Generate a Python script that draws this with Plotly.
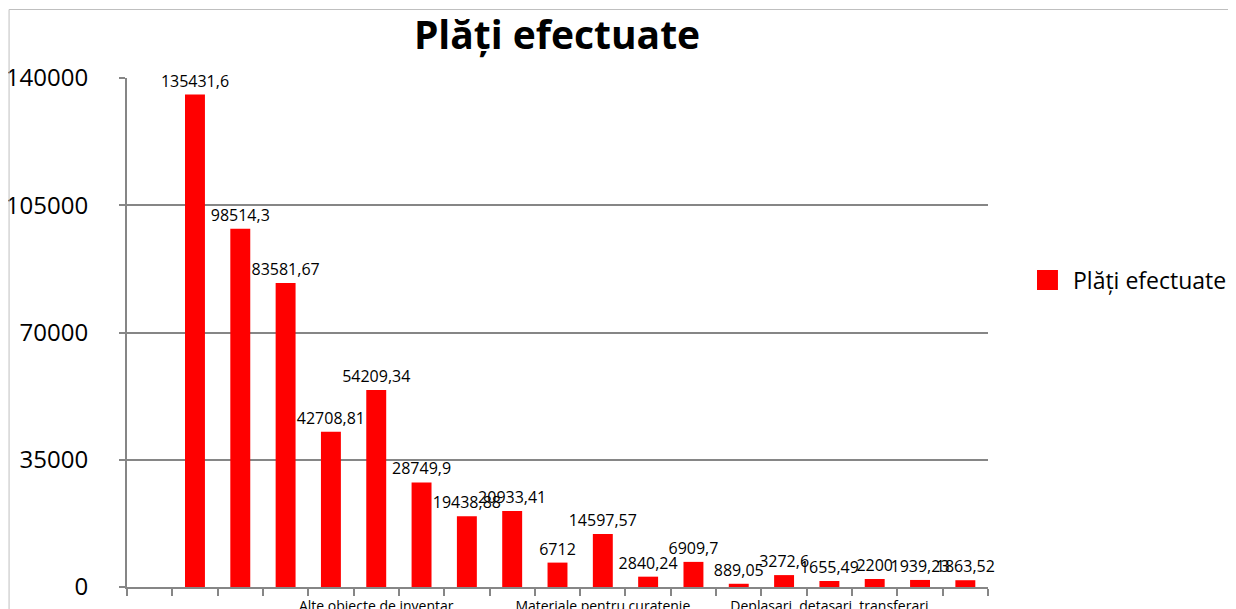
import plotly.graph_objects as go

# ---- data ----
chart_title = "Plăți efectuate"
series_name = "Plăți efectuate"
slots = list(range(19))
values = [None, 135431.6, 98514.3, 83581.67, 42708.81, 54209.34, 28749.9,
          19438.88, 20933.41, 6712, 14597.57, 2840.24, 6909.7, 889.05,
          3272.6, 1655.49, 2200, 1939.23, 1863.52]
label_slots = [5, 10, 15]
label_texts = ["Alte obiecte de inventar", "Materiale pentru curatenie",
               "Deplasari, detasari, transferari"]
y_ticks = [0, 35000, 70000, 105000, 140000]


def fmt(v):
    if v is None:
        return ""
    s = ("%.2f" % v).rstrip("0").rstrip(".")
    return s.replace(".", ",")


# page is offset by the default 8px body margin
OFF = 8
W, H = 1236 - OFF, 609 - OFF
L, R, T, B = 126.5, 988, 78, 587  # plot area in page pixels


def px(X):
    return (X - L) / (R - L)


def py(Y):
    return (B - Y) / (B - T)


FONT = "Open Sans"
GRID = "#868686"

fig = go.Figure()
fig.add_trace(go.Bar(
    x=slots, y=values, name=series_name, width=0.44,
    marker=dict(color="#FF0000", line=dict(width=0)),
    text=[fmt(v) for v in values], textposition="outside",
    textfont=dict(family=FONT, size=16, color="#000000"),
    constraintext="none", cliponaxis=False, showlegend=False,
))

fig.update_layout(
    width=W, height=H,
    margin=dict(l=L - OFF, r=(OFF + W) - R, t=T - OFF, b=(OFF + H) - B,
                pad=0, autoexpand=False),
    paper_bgcolor="white", plot_bgcolor="white",
    title=dict(text="<b>" + chart_title + "</b>", x=(557 - OFF) / W,
               xanchor="center", y=1 - (35 - OFF) / H, yanchor="middle",
               font=dict(family=FONT, size=39, color="#000000")),
    xaxis=dict(
        range=[-0.5, 18.5], tickmode="array", tickvals=label_slots,
        ticktext=label_texts, ticks="", showgrid=False, zeroline=False,
        showline=True, linecolor=GRID, linewidth=2, automargin=False,
        ticklabeloverflow="allow",
        tickfont=dict(family=FONT, size=14, color="#000000"),
        ticklabelstandoff=5,
        minor=dict(tick0=-0.5, dtick=1, ticks="outside", ticklen=7,
                   tickwidth=2, tickcolor=GRID, showgrid=False),
    ),
    yaxis=dict(
        range=[0, 140000], tickmode="array", tickvals=y_ticks,
        ticktext=[str(t) for t in y_ticks], automargin=False,
        ticklabeloverflow="allow",
        showgrid=True, gridcolor=GRID, gridwidth=2, zeroline=False,
        showline=True, linecolor=GRID, linewidth=2,
        ticks="outside", ticklen=6, tickwidth=2, tickcolor=GRID,
        tickfont=dict(family=FONT, size=24, color="#000000"),
        ticklabelstandoff=26,
    ),
    shapes=[
        dict(type="rect", xref="paper", yref="paper",
             x0=px(1037), x1=px(1058), y0=py(290), y1=py(270),
             fillcolor="#FF0000", line=dict(width=0)),
        dict(type="line", xref="paper", yref="paper",
             x0=px(8.5), x1=px(1236), y0=py(9.5), y1=py(9.5),
             line=dict(color="#BFBFBF", width=1)),
        dict(type="line", xref="paper", yref="paper",
             x0=px(8.5), x1=px(8.5), y0=py(9.5), y1=py(609),
             line=dict(color="#BFBFBF", width=1)),
    ],
    annotations=[
        dict(text=series_name, xref="paper", yref="paper", x=px(1071),
             y=py(280), xanchor="left", yanchor="middle", showarrow=False,
             font=dict(family=FONT, size=23, color="#000000")),
    ],
)

fig.write_html("out.html")
